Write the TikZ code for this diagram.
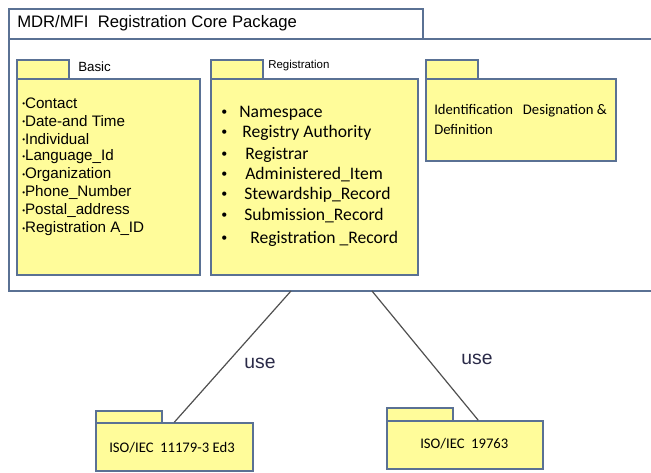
\documentclass[tikz,border=0pt]{standalone}
\usepackage{fontspec}
\setmainfont{Liberation Sans}
\newfontfamily\calfont{Carlito}
\usetikzlibrary{fit,calc}
\definecolor{pkgyellow}{HTML}{FFFC9A}
\definecolor{pkgline}{HTML}{5A7194}
\definecolor{conncol}{HTML}{505050}
\definecolor{usecol}{HTML}{2A2A48}
\begin{document}
\begin{tikzpicture}[x=0.75pt,y=-0.75pt,
  pkg/.style={draw=pkgline, line width=1.1pt, fill=pkgyellow, inner sep=0pt},
  frameline/.style={draw=pkgline, line width=1.1pt},
  conn/.style={draw=conncol, line width=0.9pt},
  txt/.style={anchor=west, inner sep=0pt},
  basictxt/.style={txt, font=\fontsize{11.4}{13}\selectfont},
  regtxt/.style={txt, font=\calfont\fontsize{13.2}{15}\selectfont},
  smalltxt/.style={txt, font=\calfont\fontsize{11}{13}\selectfont},
  uselbl/.style={inner sep=0pt, text=usecol, font=\fontsize{14.5}{16}\selectfont}]
\useasboundingbox (0,0) rectangle (651,473);
% outer package
\draw[frameline] (651,39) -- (9,39) -- (9,291) -- (651,291);
\node[frameline, fill=white, inner sep=0pt, fit={(9,9) (423,39)}] (coretab) {};
\node[txt, font=\fontsize{12.5}{14}\selectfont] (coretitle) at (17,23) {MDR/MFI\ \ Registration Core Package};
\coordinate (c1) at (291,291);
\coordinate (c2) at (372,291);
% Basic
\node[pkg, fit={(17,60) (69,79)}] (basictab) {};
\node[pkg, fit={(17,79) (200,275)}] (basic) {};
\node[txt, font=\fontsize{10}{12}\selectfont] (basiclbl) at (78,67) {Basic};
\foreach \t [count=\i] in {Contact,Date-and Time,Individual,Language\_Id,Organization,Phone\_Number,Postal\_address,Registration A\_ID}{
  \node[basictxt] (b\i) at (22,{103+18*(\i-1)}) {{\fontsize{6}{6}\selectfont\raisebox{0.45ex}{•}}\t};
}
% Registration
\node[pkg, fit={(211,60) (263,79)}] (regtab) {};
\node[pkg, fit={(211,79) (418,275)}] (reg) {};
\node[txt, font=\fontsize{8.6}{10}\selectfont] (reglbl) at (268,66) {Registration};
\foreach \x/\y/\t [count=\i] in {239/113/Namespace, 242/133/Registry Authority, 245/155/Registrar, 245/175/Administered\_Item, 244/195/Stewardship\_Record, 244/216/Submission\_Record, 250/239/Registration \_Record}{
  \node[txt, font=\calfont\fontsize{9}{10}\selectfont] (rb\i) at (221,\y) {•};
  \node[regtxt] (r\i) at (\x,\y) {\t};
}
% Identification
\node[pkg, fit={(426,60) (478,79)}] (idtab) {};
\node[pkg, fit={(426,79) (616,161)}] (ident) {};
\node[txt, smalltxt] (idtxt1) at (434,111) {Identification\ \ \ Designation \&};
\node[txt, smalltxt] (idtxt2) at (434,129) {Definition};
% ISO 11179
\node[pkg, fit={(96,411) (162,423)}] (iso1tab) {};
\node[pkg, fit={(96,423) (253,471)}] (iso1) {};
\node[smalltxt] (iso1txt) at (109,448) {ISO/IEC\ \ 11179-3 Ed3};
% ISO 19763
\node[pkg, fit={(387,408) (453,421)}] (iso2tab) {};
\node[pkg, fit={(387,421) (543,469)}] (iso2) {};
\node[smalltxt] (iso2txt) at (420,444) {ISO/IEC\ \ 19763};
% connectors
\draw[conn] (c1) -- ($(iso1.north west)+(79,0)$);
\draw[conn] (c2) -- ($(iso2.north west)+(92,0)$);
\node[uselbl] (use1) at (260,363) {use};
\node[uselbl] (use2) at (477,359) {use};
\end{tikzpicture}
\end{document}
